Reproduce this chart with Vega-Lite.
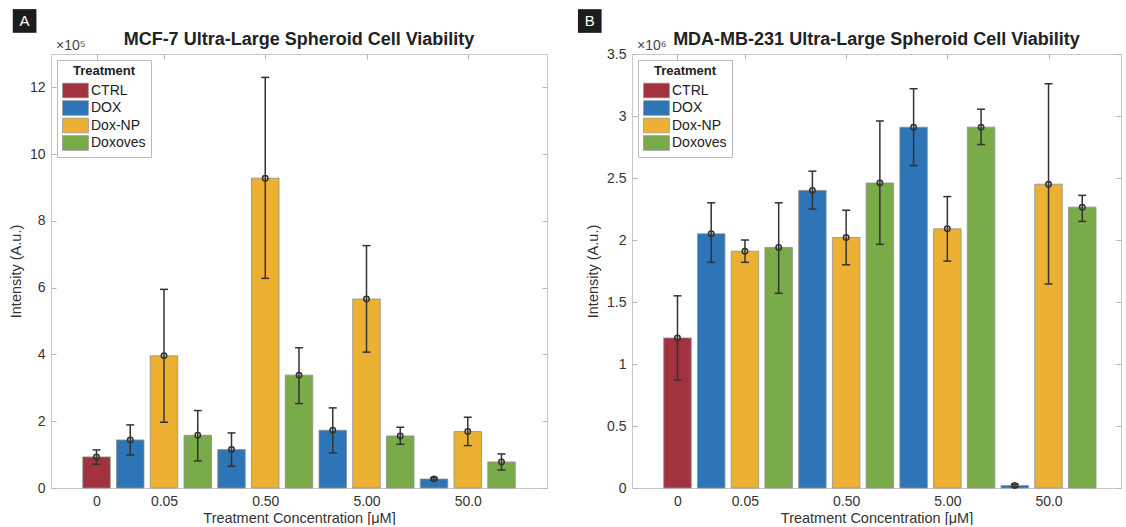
{
  "$schema": "https://vega.github.io/schema/vega-lite/v6.json",
  "padding": {"left": 7, "top": 8, "right": 0, "bottom": 0},
  "background": "white",
  "spacing": 29,
  "config": {
    "font": "Liberation Sans",
    "view": {"stroke": "#c8c8c8", "strokeWidth": 1},
    "axis": {
      "domain": false, "grid": false,
      "labelFont": "Liberation Sans", "labelFontSize": 14, "labelColor": "#333333",
      "titleFont": "Liberation Sans", "titleFontSize": 14.5, "titleFontWeight": "normal", "titleColor": "#333333",
      "tickColor": "#b5b5b5", "tickSize": -5, "labelPadding": 11
    },
    "axisY": {"titlePadding": 6},
    "axisX": {"titlePadding": 3},
    "title": {"font": "Liberation Sans", "fontSize": 18, "fontWeight": "bold", "color": "#222222", "offset": -40},
    "legend": {
      "orient": "top-left", "offset": 6, "strokeColor": "#bbbbbb", "fillColor": "white", "padding": 5,
      "titleFont": "Liberation Sans", "titleFontSize": 13, "titleFontWeight": "bold", "titleColor": "#222222", "titleAnchor": "middle", "titlePadding": 5,
      "labelFont": "Liberation Sans", "labelFontSize": 14, "labelColor": "#222222", "labelOffset": 14,
      "symbolType": "M-1,-1.05H2.7V1.05H-1Z", "symbolSize": 196, "symbolStrokeColor": "#999999", "symbolStrokeWidth": 0.8, "symbolOpacity": 1, "rowPadding": -1.5
    }
  },
  "datasets": {
    "mcf7": [
      {"pos": 1, "conc": "0", "treatment": "CTRL", "mean": 0.93, "lo": 0.71, "hi": 1.14},
      {"pos": 2, "conc": "0.05", "treatment": "DOX", "mean": 1.44, "lo": 0.99, "hi": 1.89},
      {"pos": 3, "conc": "0.05", "treatment": "Dox-NP", "mean": 3.96, "lo": 1.97, "hi": 5.95},
      {"pos": 4, "conc": "0.05", "treatment": "Doxoves", "mean": 1.58, "lo": 0.81, "hi": 2.32},
      {"pos": 5, "conc": "0.50", "treatment": "DOX", "mean": 1.15, "lo": 0.65, "hi": 1.65},
      {"pos": 6, "conc": "0.50", "treatment": "Dox-NP", "mean": 9.28, "lo": 6.28, "hi": 12.3},
      {"pos": 7, "conc": "0.50", "treatment": "Doxoves", "mean": 3.38, "lo": 2.53, "hi": 4.2},
      {"pos": 8, "conc": "5.00", "treatment": "DOX", "mean": 1.73, "lo": 1.05, "hi": 2.4},
      {"pos": 9, "conc": "5.00", "treatment": "Dox-NP", "mean": 5.66, "lo": 4.07, "hi": 7.26},
      {"pos": 10, "conc": "5.00", "treatment": "Doxoves", "mean": 1.56, "lo": 1.31, "hi": 1.82},
      {"pos": 11, "conc": "50.0", "treatment": "DOX", "mean": 0.27, "lo": 0.24, "hi": 0.31},
      {"pos": 12, "conc": "50.0", "treatment": "Dox-NP", "mean": 1.69, "lo": 1.27, "hi": 2.12},
      {"pos": 13, "conc": "50.0", "treatment": "Doxoves", "mean": 0.78, "lo": 0.54, "hi": 1.02}
    ],
    "mda": [
      {"pos": 1, "conc": "0", "treatment": "CTRL", "mean": 1.21, "lo": 0.87, "hi": 1.55},
      {"pos": 2, "conc": "0.05", "treatment": "DOX", "mean": 2.05, "lo": 1.82, "hi": 2.3},
      {"pos": 3, "conc": "0.05", "treatment": "Dox-NP", "mean": 1.91, "lo": 1.82, "hi": 2.0},
      {"pos": 4, "conc": "0.05", "treatment": "Doxoves", "mean": 1.94, "lo": 1.57, "hi": 2.3},
      {"pos": 5, "conc": "0.50", "treatment": "DOX", "mean": 2.4, "lo": 2.25, "hi": 2.555},
      {"pos": 6, "conc": "0.50", "treatment": "Dox-NP", "mean": 2.02, "lo": 1.8, "hi": 2.24},
      {"pos": 7, "conc": "0.50", "treatment": "Doxoves", "mean": 2.46, "lo": 1.965, "hi": 2.96},
      {"pos": 8, "conc": "5.00", "treatment": "DOX", "mean": 2.91, "lo": 2.6, "hi": 3.22},
      {"pos": 9, "conc": "5.00", "treatment": "Dox-NP", "mean": 2.09, "lo": 1.83, "hi": 2.35},
      {"pos": 10, "conc": "5.00", "treatment": "Doxoves", "mean": 2.91, "lo": 2.77, "hi": 3.055},
      {"pos": 11, "conc": "50.0", "treatment": "DOX", "mean": 0.02, "lo": 0.01, "hi": 0.03},
      {"pos": 12, "conc": "50.0", "treatment": "Dox-NP", "mean": 2.45, "lo": 1.645, "hi": 3.26},
      {"pos": 13, "conc": "50.0", "treatment": "Doxoves", "mean": 2.265, "lo": 2.15, "hi": 2.36}
    ],
    "badgeA": [{"x": -1.13, "y": 13.99, "label": "A"}],
    "badgeB": [{"x": -1.6, "y": 3.766, "label": "B"}],
    "expA": [{"x": -0.2, "y": 13, "label": "×10⁵"}],
    "expB": [{"x": -0.2, "y": 3.5, "label": "×10⁶"}]
  },
  "resolve": {"scale": {"x": "independent", "y": "independent", "color": "independent"}, "legend": {"color": "independent"}},
  "hconcat": [
    {
      "width": 496, "height": 434,
      "title": {"text": "MCF-7 Ultra-Large Spheroid Cell Viability"},
      "resolve": {"axis": {"x": "independent", "y": "independent"}},
      "layer": [
        {
          "data": {"name": "mcf7"},
          "mark": {"type": "bar", "size": 27.5, "stroke": "#8f8f8f", "strokeWidth": 0.8},
          "encoding": {
            "x": {"field": "pos", "type": "quantitative", "scale": {"domain": [-0.2, 14.2], "nice": false, "zero": false},
              "axis": {"values": [1, 3, 6, 9, 12], "title": "Treatment Concentration [μM]",
                "labelExpr": "datum.value == 1 ? '0' : datum.value == 3 ? '0.05' : datum.value == 6 ? '0.50' : datum.value == 9 ? '5.00' : '50.0'"}},
            "y": {"field": "mean", "type": "quantitative", "scale": {"domain": [0, 13], "nice": false},
              "axis": {"values": [0, 2, 4, 6, 8, 10, 12], "title": "Intensity (A.u.)", "format": "~g"}},
            "color": {"field": "treatment", "type": "nominal",
              "scale": {"domain": ["CTRL", "DOX", "Dox-NP", "Doxoves"], "range": ["#A3323F", "#2D75B6", "#ECB133", "#79AC48"]},
              "legend": {"title": "Treatment"}}
          }
        },
        {
          "data": {"name": "mcf7"},
          "mark": {"type": "rule", "color": "#333333", "strokeWidth": 1.5},
          "encoding": {
            "x": {"field": "pos", "type": "quantitative", "axis": null},
            "y": {"field": "lo", "type": "quantitative", "axis": null},
            "y2": {"field": "hi"}
          }
        },
        {
          "data": {"name": "mcf7"},
          "mark": {"type": "tick", "orient": "horizontal", "size": 8, "thickness": 1.5, "color": "#333333", "opacity": 1},
          "encoding": {
            "x": {"field": "pos", "type": "quantitative", "axis": null},
            "y": {"field": "lo", "type": "quantitative", "axis": null}
          }
        },
        {
          "data": {"name": "mcf7"},
          "mark": {"type": "tick", "orient": "horizontal", "size": 8, "thickness": 1.5, "color": "#333333", "opacity": 1},
          "encoding": {
            "x": {"field": "pos", "type": "quantitative", "axis": null},
            "y": {"field": "hi", "type": "quantitative", "axis": null}
          }
        },
        {
          "data": {"name": "mcf7"},
          "mark": {"type": "point", "shape": "circle", "size": 30, "filled": false, "stroke": "#333333", "strokeWidth": 1.5, "opacity": 1},
          "encoding": {
            "x": {"field": "pos", "type": "quantitative",
              "axis": {"orient": "top", "values": [1, 3, 6, 9, 12], "labels": false, "title": null}},
            "y": {"field": "mean", "type": "quantitative",
              "axis": {"orient": "right", "values": [0, 2, 4, 6, 8, 10, 12], "labels": false, "title": null}}
          }
        },
        {
          "data": {"name": "badgeA"},
          "mark": {"type": "point", "shape": "square", "size": 560, "filled": true, "color": "#1c1c1c", "opacity": 1},
          "encoding": {
            "x": {"field": "x", "type": "quantitative", "axis": null},
            "y": {"field": "y", "type": "quantitative", "axis": null}
          }
        },
        {
          "data": {"name": "badgeA"},
          "mark": {"type": "text", "color": "white", "fontSize": 15, "baseline": "middle", "align": "center"},
          "encoding": {
            "x": {"field": "x", "type": "quantitative", "axis": null},
            "y": {"field": "y", "type": "quantitative", "axis": null},
            "text": {"field": "label"}
          }
        },
        {
          "data": {"name": "expA"},
          "mark": {"type": "text", "color": "#444444", "fontSize": 14, "baseline": "alphabetic", "align": "left", "dy": -4},
          "encoding": {
            "x": {"field": "x", "type": "quantitative", "axis": null},
            "y": {"field": "y", "type": "quantitative", "axis": null},
            "text": {"field": "label"}
          }
        }
      ]
    },
    {
      "width": 489, "height": 434,
      "title": {"text": "MDA-MB-231 Ultra-Large Spheroid Cell Viability"},
      "resolve": {"axis": {"x": "independent", "y": "independent"}},
      "layer": [
        {
          "data": {"name": "mda"},
          "mark": {"type": "bar", "size": 27.5, "stroke": "#8f8f8f", "strokeWidth": 0.8},
          "encoding": {
            "x": {"field": "pos", "type": "quantitative", "scale": {"domain": [-0.2, 14.0], "nice": false, "zero": false},
              "axis": {"values": [1, 3, 6, 9, 12], "title": "Treatment Concentration [μM]",
                "labelExpr": "datum.value == 1 ? '0' : datum.value == 3 ? '0.05' : datum.value == 6 ? '0.50' : datum.value == 9 ? '5.00' : '50.0'"}},
            "y": {"field": "mean", "type": "quantitative", "scale": {"domain": [0, 3.5], "nice": false},
              "axis": {"values": [0, 0.5, 1, 1.5, 2, 2.5, 3, 3.5], "title": "Intensity (A.u.)", "format": "~g"}},
            "color": {"field": "treatment", "type": "nominal",
              "scale": {"domain": ["CTRL", "DOX", "Dox-NP", "Doxoves"], "range": ["#A3323F", "#2D75B6", "#ECB133", "#79AC48"]},
              "legend": {"title": "Treatment"}}
          }
        },
        {
          "data": {"name": "mda"},
          "mark": {"type": "rule", "color": "#333333", "strokeWidth": 1.5},
          "encoding": {
            "x": {"field": "pos", "type": "quantitative", "axis": null},
            "y": {"field": "lo", "type": "quantitative", "axis": null},
            "y2": {"field": "hi"}
          }
        },
        {
          "data": {"name": "mda"},
          "mark": {"type": "tick", "orient": "horizontal", "size": 8, "thickness": 1.5, "color": "#333333", "opacity": 1},
          "encoding": {
            "x": {"field": "pos", "type": "quantitative", "axis": null},
            "y": {"field": "lo", "type": "quantitative", "axis": null}
          }
        },
        {
          "data": {"name": "mda"},
          "mark": {"type": "tick", "orient": "horizontal", "size": 8, "thickness": 1.5, "color": "#333333", "opacity": 1},
          "encoding": {
            "x": {"field": "pos", "type": "quantitative", "axis": null},
            "y": {"field": "hi", "type": "quantitative", "axis": null}
          }
        },
        {
          "data": {"name": "mda"},
          "mark": {"type": "point", "shape": "circle", "size": 30, "filled": false, "stroke": "#333333", "strokeWidth": 1.5, "opacity": 1},
          "encoding": {
            "x": {"field": "pos", "type": "quantitative",
              "axis": {"orient": "top", "values": [1, 3, 6, 9, 12], "labels": false, "title": null}},
            "y": {"field": "mean", "type": "quantitative",
              "axis": {"orient": "right", "values": [0, 0.5, 1, 1.5, 2, 2.5, 3, 3.5], "labels": false, "title": null}}
          }
        },
        {
          "data": {"name": "badgeB"},
          "mark": {"type": "point", "shape": "square", "size": 560, "filled": true, "color": "#1c1c1c", "opacity": 1},
          "encoding": {
            "x": {"field": "x", "type": "quantitative", "axis": null},
            "y": {"field": "y", "type": "quantitative", "axis": null}
          }
        },
        {
          "data": {"name": "badgeB"},
          "mark": {"type": "text", "color": "white", "fontSize": 15, "baseline": "middle", "align": "center"},
          "encoding": {
            "x": {"field": "x", "type": "quantitative", "axis": null},
            "y": {"field": "y", "type": "quantitative", "axis": null},
            "text": {"field": "label"}
          }
        },
        {
          "data": {"name": "expB"},
          "mark": {"type": "text", "color": "#444444", "fontSize": 14, "baseline": "alphabetic", "align": "left", "dy": -4},
          "encoding": {
            "x": {"field": "x", "type": "quantitative", "axis": null},
            "y": {"field": "y", "type": "quantitative", "axis": null},
            "text": {"field": "label"}
          }
        }
      ]
    }
  ]
}
